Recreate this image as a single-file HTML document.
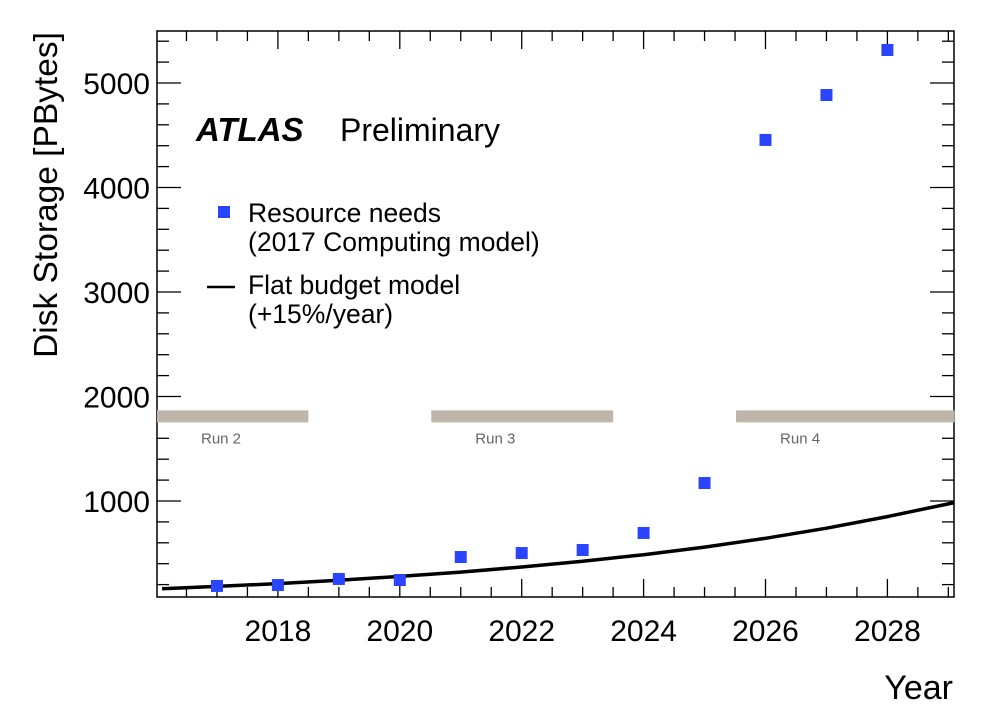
<!DOCTYPE html>
<html><head><meta charset="utf-8"><style>
body{margin:0;background:#fff}
svg text{font-family:"Liberation Sans",sans-serif}
</style></head><body>
<svg id="chart" width="998" height="720"></svg>
<script>
const years=[2017,2018,2019,2020,2021,2022,2023,2024,2025,2026,2027,2028];
const needs=[187,196,254,244,464,502,531,694,1172,4455,4885,5316];
const budgetYears=[2016.1,2017,2018,2019,2020,2021,2022,2023,2024,2025,2026,2027,2028,2029.1];
const budget=[161,183,210,242,278,320,368,423,486,559,643,740,851,985];
const xTicks=[2018,2020,2022,2024,2026,2028];
const yTicks=[1000,2000,3000,4000,5000];
const runs=[{label:"Run 2",s:2016,e:2018.5},{label:"Run 3",s:2020.5,e:2023.5},{label:"Run 4",s:2025.5,e:2029.1}];
const runLevel=1810;

const NS="http://www.w3.org/2000/svg";
const svg=document.getElementById('chart');
const X0=2016,X1=2029.1,Y0=84,Y1=5500;
const L=157,R=954,T=31,B=597;
const x=v=>156+(v-2016)*60.95;
const y=v=>605.5-v*0.1045;
function el(t,a,p){const e=document.createElementNS(NS,t);for(const k in a)e.setAttribute(k,a[k]);(p||svg).appendChild(e);return e;}

const frame=el('rect',{x:L,y:T,width:R-L,height:B-T,fill:'none',stroke:'#000','stroke-width':1.5});



for(let v=2016.5;v<=X1;v+=0.5){
  const maj=Math.abs(v-Math.round(v/2)*2)<1e-6;
  const len=maj?18:10;
  el('line',{x1:x(v),x2:x(v),y1:B,y2:B-len,stroke:'#000','stroke-width':1.3});
  el('line',{x1:x(v),x2:x(v),y1:T,y2:T+len,stroke:'#000','stroke-width':1.3});
}
for(let v=200;v<=Y1;v+=200){
  const maj=v%1000===0;const len=maj?24:12;
  el('line',{x1:L,x2:L+len,y1:y(v),y2:y(v),stroke:'#000','stroke-width':1.3});
  el('line',{x1:R,x2:R-len,y1:y(v),y2:y(v),stroke:'#000','stroke-width':1.3});
}
xTicks.forEach(v=>{
  const t=el('text',{x:x(v),y:641,'font-size':30,'text-anchor':'middle'});t.textContent=v;
  
  
});
yTicks.forEach(v=>{
  const t=el('text',{x:150,y:y(v)+11,'font-size':30,'text-anchor':'end'});t.textContent=v;
  
  
});
runs.forEach(r=>{
  const rc=el('rect',{x:x(Math.max(r.s,X0))+1,y:y(runLevel)-6,width:x(Math.min(r.e,X1))-x(Math.max(r.s,X0))-1,height:12,fill:'#bfb6ab'});
  
  
  const t=el('text',{x:x(r.s)+45,y:y(runLevel)+27,'font-size':15,fill:'#666'});
  t.textContent=r.label;
  
  
});
let d='';
budgetYears.forEach((v,i)=>{d+=(i?'L':'M')+x(v).toFixed(1)+','+y(budget[i]).toFixed(1);});
const bl=el('path',{d:d,fill:'none',stroke:'#000','stroke-width':3.5,'stroke-linejoin':'round'});


years.forEach((v,i)=>{
  const m=el('rect',{x:x(v)-6,y:y(needs[i])-6,width:12,height:12,fill:'#2b44ff'});
  
  
});
</script>
<svg width="998" height="720" style="position:absolute;left:0;top:0">
<text x="196" y="141" font-size="33" font-weight="bold" font-style="italic" font-family="Liberation Sans">ATLAS</text>
<text x="340" y="141" font-size="32" font-family="Liberation Sans">Preliminary</text>
<rect x="218" y="206" width="12" height="12" fill="#2b44ff"/>
<text x="248" y="222" font-size="26.5" font-family="Liberation Sans">Resource needs</text>
<text x="248" y="251" font-size="26.5" font-family="Liberation Sans">(2017 Computing model)</text>
<line x1="207" x2="235" y1="287" y2="287" stroke="#000" stroke-width="2.5"/>
<text x="248" y="294" font-size="26.5" font-family="Liberation Sans">Flat budget model</text>
<text x="248" y="323" font-size="26.5" font-family="Liberation Sans">(+15%/year)</text>
<text x="953" y="699" font-size="34" text-anchor="end" font-family="Liberation Sans">Year</text>
<text transform="translate(57,195) rotate(-90)" font-size="33.5" text-anchor="middle" font-family="Liberation Sans">Disk Storage [PBytes]</text>
</svg>
</body></html>
